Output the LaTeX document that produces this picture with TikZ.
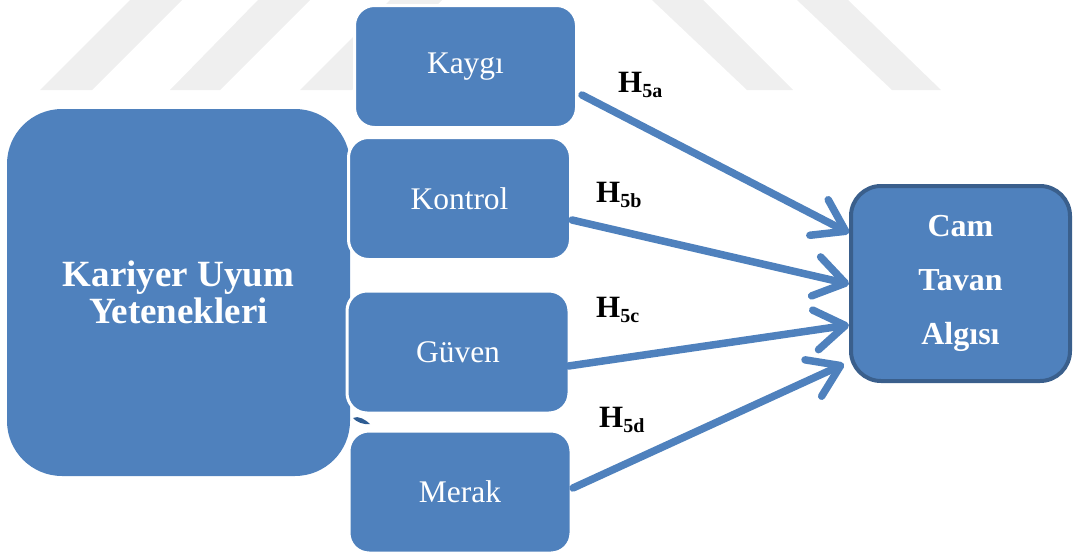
\documentclass[tikz,border=0pt]{standalone}
\usepackage{fontspec}
\setmainfont{Liberation Serif}
\usetikzlibrary{arrows.meta}
\definecolor{boxblue}{HTML}{4F81BD}
\definecolor{darkborder}{HTML}{3A5F8C}
\definecolor{wmgray}{HTML}{EFEFEF}
\definecolor{sliver}{HTML}{2E5C92}
\newcommand\hsub[1]{\raisebox{-5pt}{\fontsize{20}{20}\selectfont #1}}
\begin{document}
\begin{tikzpicture}[x=1pt,y=-1pt,
  smallbox/.style={fill=boxblue, draw=white, line width=3pt, rounded corners=20pt,
    text=white, font=\fontsize{31.5}{31.5}\selectfont, minimum width=222pt,
    minimum height=122pt, inner sep=0pt},
  bigbox/.style={fill=boxblue, rounded corners=55pt, text=white,
    font=\bfseries\fontsize{37}{37}\selectfont, align=center,
    minimum width=343pt, minimum height=367pt, inner sep=0pt},
  targetbox/.style={fill=boxblue, draw=darkborder, line width=4pt, rounded corners=30pt,
    text=white, font=\bfseries\fontsize{32}{54}\selectfont, align=center,
    minimum width=219pt, minimum height=195pt, inner sep=0pt},
  hlab/.style={font=\bfseries\fontsize{31}{31}\selectfont, inner sep=0pt, anchor=base west},
  arr/.style={draw=boxblue, line width=7.5pt, line cap=round,
    -{Straight Barb[length=30pt, width=40pt, line cap=round, line join=round]},
    preaction={draw=black, opacity=0.12, transform canvas={shift={(1.5pt,-2.5pt)}}}},
  wm/.style={fill=wmgray}
]
\useasboundingbox (0,0) rectangle (1073,554);
% faint watermark stripes
\fill[wm] (40,90) -- (92,90) -- (182,0) -- (130,0) -- cycle;
\fill[wm] (170,90) -- (220,90) -- (310,0) -- (258,0) -- cycle;
\fill[wm] (300,90) -- (352,90) -- (442,0) -- (390,0) -- cycle;
\fill[wm] (652,0) -- (703,0) -- (793,90) -- (747,90) -- cycle;
\fill[wm] (797,0) -- (848,0) -- (941,90) -- (892,90) -- cycle;

\node[bigbox] (kuy) at (178.5,292.5) {Kariyer Uyum\\Yetenekleri};
\fill[sliver] (353,418) .. controls (358,415) and (366,420) .. (370,424)
  .. controls (364,425) and (356,422) .. cycle;

\node[smallbox] (kaygi) at (465.5,66.5) {Kaygı};
\node[smallbox] (kontrol) at (459.5,198.5) {Kontrol};
\node[smallbox] (guven) at (458,352) {Güven};
\node[smallbox] (merak) at (460,492) {Merak};

\node[targetbox] (cam) at (960.5,283.5) {\raisebox{-3pt}{Cam}\\\raisebox{-3pt}{Tavan}\\\raisebox{-3pt}{Algısı}};

\draw[arr] ([xshift=4pt,yshift=-28.5pt]kaygi.east) -- ([yshift=50.5pt]cam.west);
\draw[arr] ([yshift=-21.5pt]kontrol.east) -- ([yshift=-0.5pt]cam.west);
\draw[arr] ([xshift=-2pt,yshift=-14pt]guven.east) -- ([yshift=-41.5pt]cam.west);
\draw[arr] ([xshift=0.5pt,yshift=4pt]merak.east) -- ([xshift=-5pt,yshift=-80.5pt]cam.west);

\node[hlab] (h5a) at (618,92) {H\hsub{5a}};
\node[hlab] (h5b) at (596,202) {H\hsub{5b}};
\node[hlab] (h5c) at (596,317) {H\hsub{5c}};
\node[hlab] (h5d) at (599,427) {H\hsub{5d}};
\end{tikzpicture}
\end{document}
